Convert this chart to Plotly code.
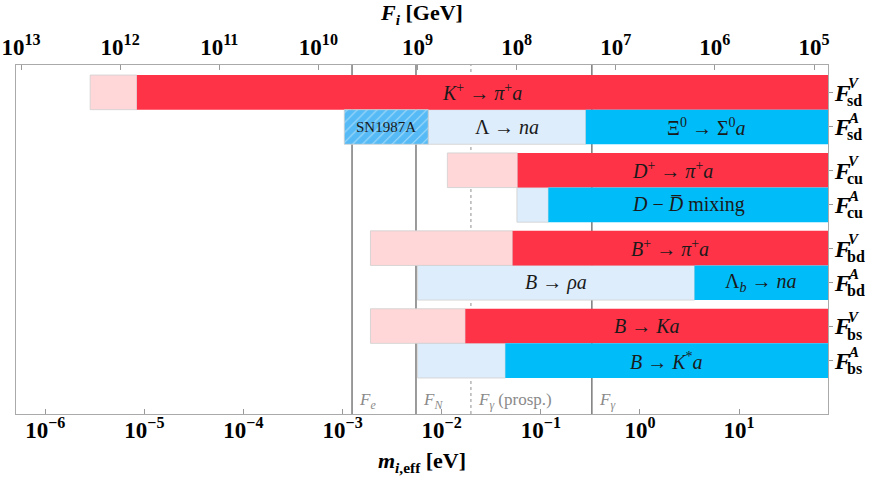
import numpy as np
import plotly.graph_objects as go

# couplings (rows, top to bottom) and the right-hand labels (superscript, subscript)
rows = ["sdV", "sdA", "cuV", "cuA", "bdV", "bdA", "bsV", "bsA"]
row_sup = ["V", "A", "V", "A", "V", "A", "V", "A"]
row_sub = ["sd", "sd", "cu", "cu", "bd", "bd", "bs", "bs"]
is_vector = [True, False, True, False, True, False, True, False]

# m_eff [eV] where the faint (weaker) bound starts and where the solid bound starts
weak_start = [2.84e-6, 7.31e-3, 1.14e-2, 5.74e-2, 1.91e-3, 5.71e-3, 1.91e-3, 5.71e-3]
strong_start = [8.41e-6, 0.284, 5.83e-2, 0.119, 5.19e-2, 3.55, 1.73e-2, 4.38e-2]

# process labels on the solid / faint segments
strong_text = [
    "<i>K</i><sup>+</sup> → <i>π</i><sup>+</sup><i>a</i>",
    "Ξ<sup>0</sup> → Σ<sup>0</sup><i>a</i>",
    "<i>D</i><sup>+</sup> → <i>π</i><sup>+</sup><i>a</i>",
    "<i>D</i> − <i>D̅</i> mixing",
    "<i>B</i><sup>+</sup> → <i>π</i><sup>+</sup><i>a</i>",
    "Λ<sub><i>b</i></sub> → <i>na</i>",
    "<i>B</i> → <i>Ka</i>",
    "<i>B</i> → <i>K</i><sup>*</sup><i>a</i>",
]
weak_text = {"sdA": "Λ → <i>na</i>", "bdA": "<i>B</i> → <i>ρa</i>"}

# supernova bound on F_sd^A
sn_range = [1.04e-3, 7.31e-3]

# reference lines (m_eff in eV)
ref_names = ["<i>F<sub>e</sub></i>", "<i>F<sub>N</sub></i>",
             "<i>F<sub>γ</sub></i> (prosp.)", "<i>F<sub>γ</sub></i>"]
ref_m = [1.245e-3, 5.50e-3, 1.97e-2, 0.327]
ref_dash = ["solid", "solid", "dot", "solid"]

# axis ticks (exponents)
m_exp = [-6, -5, -4, -3, -2, -1, 0, 1]
F_exp = [13, 12, 11, 10, 9, 8, 7, 6, 5]

# m * F = 5.7e6 eV GeV
MF = 5.7e6
log_mmin, log_mmax = -6.295, 1.897
m_max = 10 ** log_mmax

RED, PINK = "#FF3348", "#FFD7D9"
BLUE, LBLUE = "#00BDFA", "#DDEDFC"
SERIF = "Liberation Serif"

# vertical positions: 4 groups, 2 rows each
ypos = []
for g in range(4):
    ypos += [g * 2.25, g * 2.25 + 1]

fig = go.Figure()

strong_col = [RED if v else BLUE for v in is_vector]
weak_col = [PINK if v else LBLUE for v in is_vector]

fig.add_trace(go.Bar(
    orientation="h", y=ypos, base=weak_start,
    x=[s - w for s, w in zip(strong_start, weak_start)],
    width=1, marker=dict(color=weak_col, line=dict(color="#cfcfcf", width=0.8)),
    showlegend=False, hoverinfo="skip",
))
fig.add_trace(go.Bar(
    orientation="h", y=ypos, base=strong_start,
    x=[m_max - s for s in strong_start],
    width=1, marker=dict(color=strong_col, line=dict(width=0)),
    showlegend=False, hoverinfo="skip",
))
fig.add_trace(go.Bar(
    orientation="h", y=[ypos[1]], base=[sn_range[0]],
    x=[sn_range[1] - sn_range[0]], width=1,
    marker=dict(color="#55BAF5", line=dict(color="#cfcfcf", width=0.8),
                pattern=dict(shape="/", fgcolor="white", size=7, solidity=0.15,
                             fillmode="overlay")),
    showlegend=False, hoverinfo="skip",
))
# invisible trace to carry the top F axis
fig.add_trace(go.Scatter(x=[1e9], y=[0], xaxis="x2", mode="markers",
                         marker=dict(opacity=0), showlegend=False, hoverinfo="skip"))

lab_font = dict(family=SERIF, size=20, color="#1a1a1a")
for i, r in enumerate(rows):
    xc = (np.log10(strong_start[i]) + log_mmax) / 2
    fig.add_annotation(x=xc, y=ypos[i], text=strong_text[i],
                       showarrow=False, font=lab_font)
    if r in weak_text:
        xw = (np.log10(weak_start[i]) + np.log10(strong_start[i])) / 2
        fig.add_annotation(x=xw, y=ypos[i], text=weak_text[r],
                           showarrow=False, font=lab_font)
    # stacked super/subscript next to the bold F tick label
    fig.add_annotation(xref="paper", x=1, y=ypos[i], xanchor="left", xshift=18,
                       yshift=9, text="<b><i>%s</i></b>" % row_sup[i], showarrow=False,
                       font=dict(family=SERIF, size=15, color="black"))
    fig.add_annotation(xref="paper", x=1, y=ypos[i], xanchor="left", xshift=17,
                       yshift=-8, text="<b>%s</b>" % row_sub[i], showarrow=False,
                       font=dict(family=SERIF, size=16, color="black"))
fig.add_annotation(x=np.mean(np.log10(sn_range)), y=ypos[1], text="SN1987A",
                   showarrow=False, font=dict(family=SERIF, size=15, color="#1a1a1a"))

for name, m, d in zip(ref_names, ref_m, ref_dash):
    fig.add_shape(type="line", xref="x", yref="paper", x0=m, x1=m, y0=0, y1=1,
                  layer="below",
                  line=dict(color="#aaaaaa" if d == "dot" else "#7a7a7a",
                            width=1.3 if d == "dot" else 1.5, dash=d))
    fig.add_annotation(x=np.log10(m), xref="x", yref="paper", y=0.0, yanchor="bottom",
                       xanchor="left", xshift=5, yshift=0, text=name, showarrow=False,
                       font=dict(family=SERIF, size=17, color="#8a8a8a"))

tick_font = dict(family=SERIF, size=23, color="black", weight="bold")
fig.update_layout(
    width=872, height=482,
    margin=dict(l=16, r=44, t=65, b=68),
    plot_bgcolor="white", paper_bgcolor="white",
    barmode="overlay",
    xaxis=dict(type="log", range=[log_mmin, log_mmax], automargin=False,
               tickvals=[10.0 ** e for e in m_exp],
               ticktext=["10<sup>%s</sup>" % str(e).replace("-", "−") for e in m_exp],
               showgrid=False, zeroline=False, ticklabeloverflow="allow",
               ticks="inside", ticklen=5, tickcolor="#999999",
               showline=True, linecolor="#aaaaaa", linewidth=1,
               tickfont=tick_font, ticklabelstandoff=-5,
               title=dict(text="<b><i>m</i><sub><i>i</i>,eff</sub> [eV]</b>",
                          font=dict(family=SERIF, size=22, color="black"),
                          standoff=11)),
    xaxis2=dict(type="log", overlaying="x", side="top", automargin=False,
                range=[np.log10(MF) - log_mmin, np.log10(MF) - log_mmax],
                tickvals=[10.0 ** e for e in F_exp],
                ticktext=["10<sup>%d</sup>" % e for e in F_exp],
                showgrid=False, zeroline=False, ticklabeloverflow="allow",
                ticks="inside", ticklen=5, tickcolor="#999999",
                showline=True, linecolor="#aaaaaa", linewidth=1,
                tickfont=tick_font,
                title=dict(text="<b><i>F<sub>i</sub></i> [GeV]</b>",
                           font=dict(family=SERIF, size=22, color="black"),
                           standoff=4)),
    yaxis=dict(range=[9.29, -0.79], side="right", tickvals=ypos,
               ticktext=["<b><i>F</i></b>"] * len(ypos), automargin=False,
               showgrid=False, zeroline=False, ticks="outside", ticklen=4,
               tickcolor="#999999", showline=True, linecolor="#aaaaaa", mirror=True,
               ticklabelstandoff=-3,
               tickfont=dict(family=SERIF, size=24, color="black")),
)

# drop the default 8px page margin so the figure fills the window
fig.write_html("out.html", config={"displayModeBar": False},
               post_script="document.body.style.margin='0';"
                           "document.body.style.overflow='hidden';")
